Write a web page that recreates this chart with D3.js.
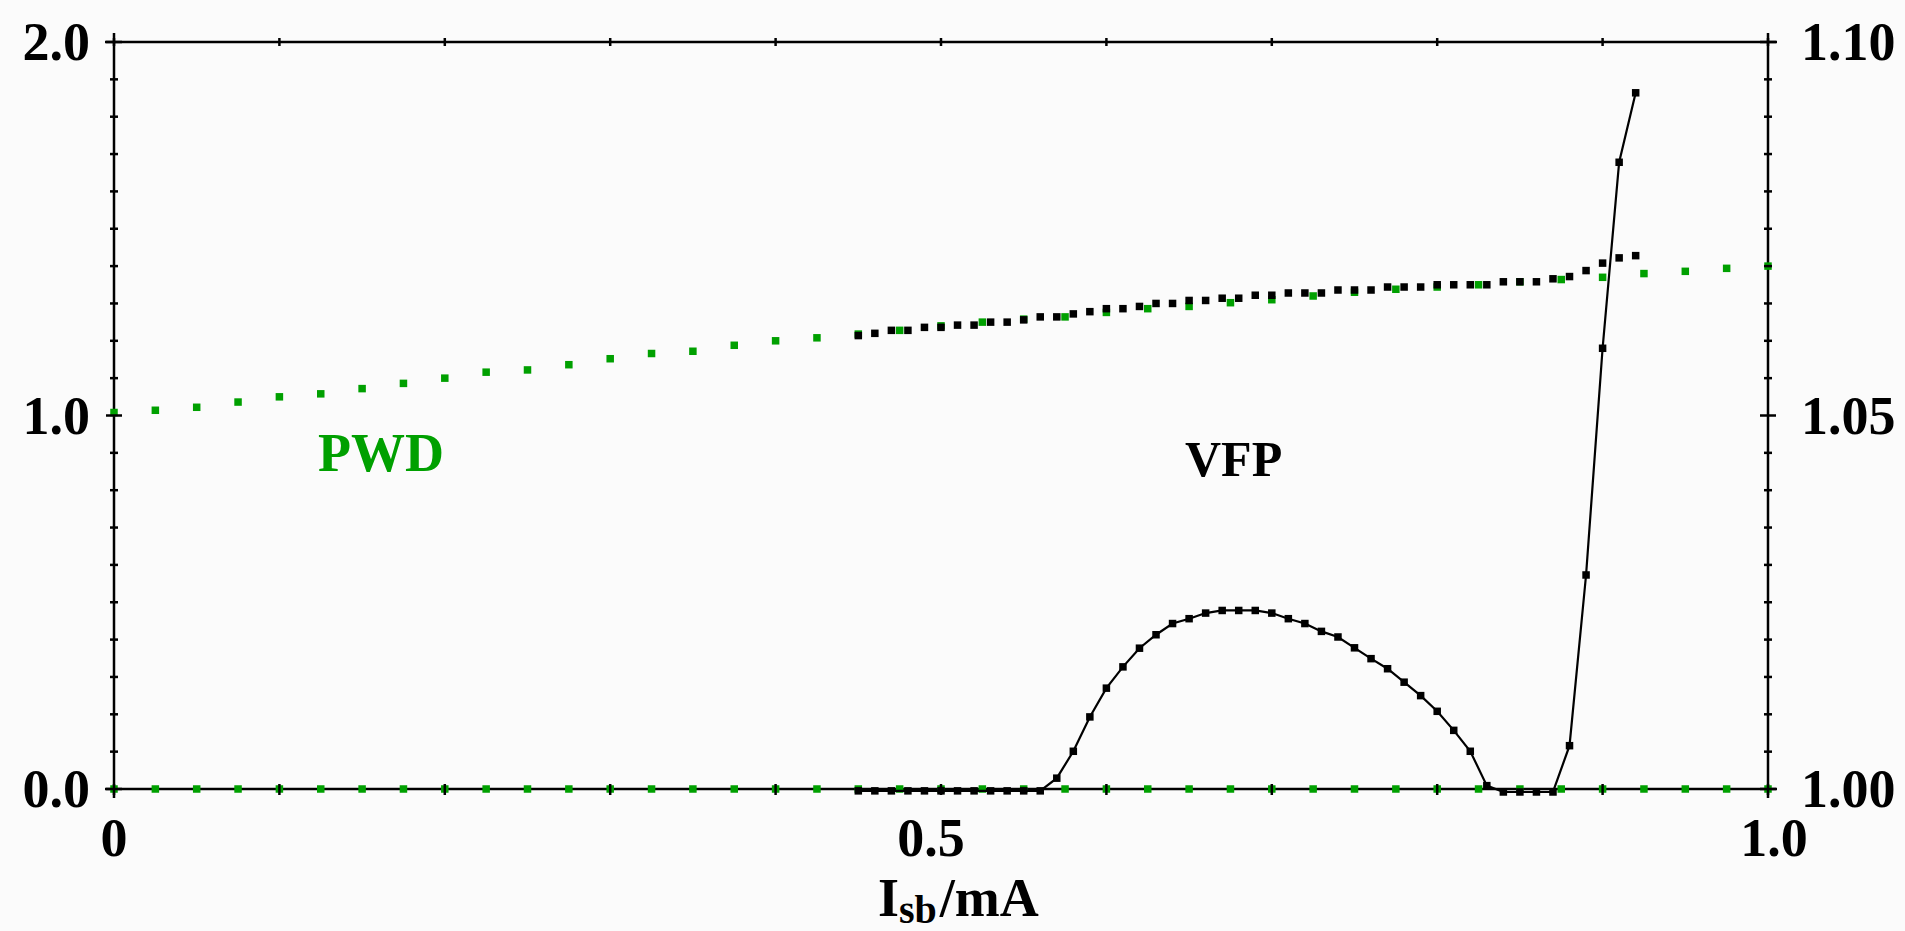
<!DOCTYPE html>
<html>
<head>
<meta charset="utf-8">
<script src="https://cdn.jsdelivr.net/npm/d3@7"></script>
<style>
  html, body { margin: 0; padding: 0; background: #fbfbfb; }
  svg { display: block; }
  text { font-family: "Liberation Serif", "DejaVu Serif", serif; font-weight: bold; }
</style>
</head>
<body>
<div id="chart"></div>
<script>
// x values shared by the two VFP series (Isb in mA)
var vfpX = d3.range(45, 93).map(function (i) { return i / 100; });

// VFP curve, left axis
var vfpLow = [
  -0.005, -0.005, -0.005, -0.005, -0.005, -0.005, -0.005, -0.005, -0.005, -0.005, -0.005, -0.005,
  0.029, 0.101, 0.193, 0.270, 0.327, 0.377, 0.413, 0.443, 0.456, 0.471,
  0.478, 0.478, 0.478, 0.471, 0.456, 0.443, 0.422, 0.407, 0.378, 0.349,
  0.322, 0.286, 0.250, 0.208, 0.157, 0.101, 0.009,
  -0.008, -0.008, -0.008, -0.008,
  0.116, 0.573, 1.180, 1.678, 1.864
];

// VFP dotted series, right axis
var vfpHigh = [
  1.0607, 1.0610, 1.0614, 1.0614, 1.0618, 1.0618, 1.0621, 1.0621, 1.0625, 1.0625,
  1.0628, 1.0632, 1.0632, 1.0636, 1.0639, 1.0643, 1.0643, 1.0646, 1.0650, 1.0650,
  1.0654, 1.0654, 1.0657, 1.0657, 1.0661, 1.0661, 1.0664, 1.0664, 1.0664, 1.0668,
  1.0668, 1.0668, 1.0672, 1.0672, 1.0672, 1.0675, 1.0675, 1.0675, 1.0675, 1.0679,
  1.0679, 1.0679, 1.0683, 1.0686, 1.0694, 1.0704, 1.0711, 1.0714
];

// PWD x values, 0 .. 1 by 0.025
var pwdX = d3.range(0, 41).map(function (i) { return i / 40; });

// PWD upper series, right axis
var pwdHigh = [
  1.0504, 1.0507, 1.0511, 1.0518, 1.0525, 1.0529, 1.0536, 1.0543, 1.0550, 1.0558,
  1.0561, 1.0568, 1.0576, 1.0583, 1.0586, 1.0594, 1.0600, 1.0604, 1.0609, 1.0614,
  1.0620, 1.0625, 1.0629, 1.0632, 1.0638, 1.0643, 1.0646, 1.0651, 1.0655, 1.0660,
  1.0665, 1.0669, 1.0672, 1.0675, 1.0679, 1.0682, 1.0685, 1.0690, 1.0693, 1.0697,
  1.0700
];

// PWD lower series, left axis
var pwdLow = pwdX.map(function () { return 0; });

var leftLabels = [0, 1, 2];
var rightLabels = [1.00, 1.05, 1.10];
var bottomLabels = [0, 0.5, 1];

var W = 1905, H = 931;
var margin = { top: 42, right: 137, bottom: 142, left: 114 };
var GREEN = "#00a000";

var x = d3.scaleLinear().domain([0, 1]).range([margin.left, W - margin.right]);
var yL = d3.scaleLinear().domain([0, 2]).range([H - margin.bottom, margin.top]);
var yR = d3.scaleLinear().domain([1.0, 1.1]).range([H - margin.bottom, margin.top]);

var svg = d3.select("#chart").append("svg")
  .attr("width", W)
  .attr("height", H);

svg.append("rect").attr("width", W).attr("height", H).attr("fill", "#fbfbfb");

var x0 = x(0), x1 = x(1), yb = yL(0), yt = yL(2);
var ext = 9;

// frame
var frame = svg.append("g").attr("stroke", "#000").attr("stroke-width", 2.5);
frame.append("line").attr("x1", x0 - ext).attr("x2", x1 + ext).attr("y1", yb).attr("y2", yb);
frame.append("line").attr("x1", x0 - ext).attr("x2", x1 + ext).attr("y1", yt).attr("y2", yt);
frame.append("line").attr("x1", x0).attr("x2", x0).attr("y1", yt - ext).attr("y2", yb + ext);
frame.append("line").attr("x1", x1).attr("x2", x1).attr("y1", yt - ext).attr("y2", yb + ext);

var S = 7.5;
function squares(g, xs, ys, yscale, color) {
  g.selectAll("rect")
    .data(xs.map(function (d, i) { return [d, ys[i]]; }))
    .enter()
    .append("rect")
    .attr("x", function (d) { return x(d[0]) - S / 2; })
    .attr("y", function (d) { return yscale(d[1]) - S / 2; })
    .attr("width", S)
    .attr("height", S)
    .attr("fill", color);
}

// PWD
squares(svg.append("g"), pwdX, pwdLow, yL, GREEN);
squares(svg.append("g"), pwdX, pwdHigh, yR, GREEN);

// VFP
squares(svg.append("g"), vfpX, vfpHigh, yR, "#000");

var line = d3.line()
  .x(function (d) { return x(d[0]); })
  .y(function (d) { return yL(d[1]); });

svg.append("path")
  .datum(vfpX.map(function (d, i) { return [d, vfpLow[i]]; }))
  .attr("d", line)
  .attr("fill", "none")
  .attr("stroke", "#000")
  .attr("stroke-width", 2.2);

squares(svg.append("g"), vfpX, vfpLow, yL, "#000");

// ticks
var ticks = svg.append("g").attr("stroke", "#000").attr("stroke-width", 2.5);
yL.ticks(20).forEach(function (v) {
  var major = leftLabels.indexOf(Math.round(v * 10) / 10) >= 0;
  var t = major ? 8 : 4;
  ticks.append("line").attr("x1", x0 - t).attr("x2", x0 + t).attr("y1", yL(v)).attr("y2", yL(v));
});
yR.ticks(20).forEach(function (v) {
  var major = rightLabels.some(function (r) { return Math.abs(r - v) < 1e-6; });
  var t = major ? 8 : 4;
  ticks.append("line").attr("x1", x1 - t).attr("x2", x1 + t).attr("y1", yR(v)).attr("y2", yR(v));
});
x.ticks(10).forEach(function (v) {
  ticks.append("line").attr("x1", x(v)).attr("x2", x(v)).attr("y1", yb - 5).attr("y2", yb + 6);
  ticks.append("line").attr("x1", x(v)).attr("x2", x(v)).attr("y1", yt - 4).attr("y2", yt + 4);
});

// tick labels
var FS = 54;
svg.append("g").selectAll("text")
  .data(leftLabels)
  .enter()
  .append("text")
  .attr("x", x0 - 24)
  .attr("y", function (d) { return yL(d); })
  .attr("dy", "0.34em")
  .attr("text-anchor", "end")
  .attr("font-size", FS)
  .text(function (d) { return d3.format(".1f")(d); });

svg.append("g").selectAll("text")
  .data(rightLabels)
  .enter()
  .append("text")
  .attr("x", x1 + 33)
  .attr("y", function (d) { return yR(d); })
  .attr("dy", "0.34em")
  .attr("text-anchor", "start")
  .attr("font-size", FS)
  .text(function (d) { return d3.format(".2f")(d); });

svg.append("g").selectAll("text")
  .data(bottomLabels)
  .enter()
  .append("text")
  .attr("x", function (d) { return x(d) + (d === 0.5 ? -10 : d === 1 ? 6 : 0); })
  .attr("y", yb + 67)
  .attr("text-anchor", "middle")
  .attr("font-size", FS)
  .text(function (d) { return d === 0 ? "0" : d3.format(".1f")(d); });

// axis title
var title = svg.append("text")
  .attr("x", 878)
  .attr("y", 916)
  .attr("font-size", FS);
title.append("tspan").text("I");
title.append("tspan").attr("font-size", 40).attr("dy", 7).text("sb");
title.append("tspan").attr("dy", -7).attr("dx", 3).text("/mA");

// series labels
svg.append("text")
  .attr("x", 318).attr("y", 471)
  .attr("font-size", FS)
  .attr("fill", GREEN)
  .text("PWD");

svg.append("text")
  .attr("x", 1185).attr("y", 476)
  .attr("font-size", 50)
  .attr("fill", "#000")
  .text("VFP");
</script>
</body>
</html>
